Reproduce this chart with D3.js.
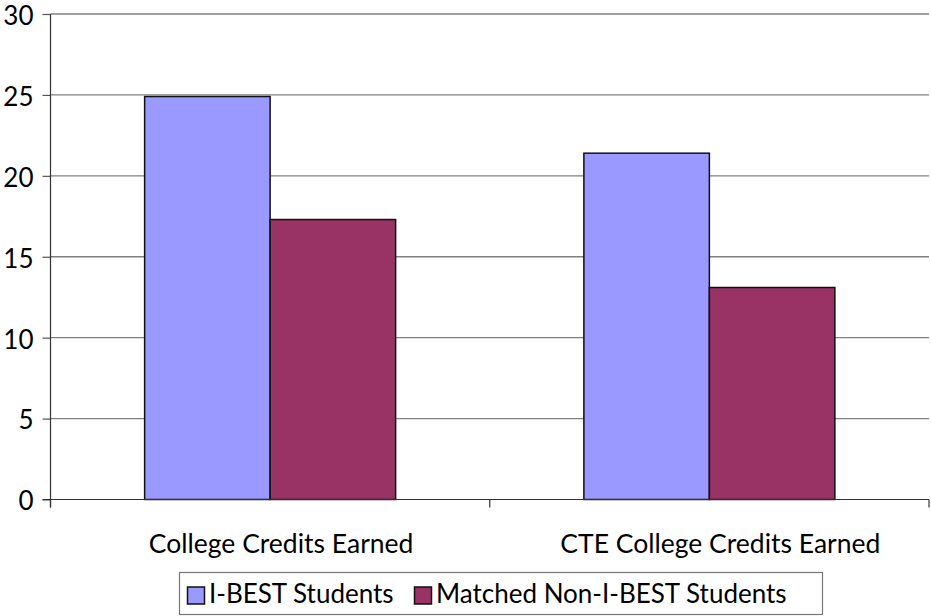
<!DOCTYPE html>
<html>
<head>
<meta charset="utf-8">
<script src="https://cdn.jsdelivr.net/npm/d3@7"></script>
<style>
  body { margin: 0; background: #fff; }
  svg text { font-family: Lato, "Open Sans", sans-serif; fill: #000; }
</style>
</head>
<body>
<div id="chart"></div>
<script>
// DATA
const categories = ['College Credits Earned', 'CTE College Credits Earned'];
const seriesNames = ['I-BEST Students', 'Matched Non-I-BEST Students'];
const ibestValues = [24.9, 21.4];
const matchedValues = [17.3, 13.1];
const yTicks = [0, 5, 10, 15, 20, 25, 30];
const colors = ['#9999ff', '#993366'];

const width = 931, height = 616;
const plot = { left: 50.5, right: 929, top: 14, bottom: 499.5 };

const svg = d3.select('#chart')
  .append('svg')
  .attr('width', width)
  .attr('height', height);

const y = d3.scaleLinear()
  .domain([0, 30])
  .range([plot.bottom, plot.top]);

const x0 = d3.scaleBand()
  .domain(categories)
  .range([plot.left, plot.right]);

// excel style gap width 150%
const bw = x0.bandwidth();
const x1 = d3.scaleBand()
  .domain(seriesNames)
  .range([bw * 0.75 / 3.5, bw * 2.75 / 3.5]);

// GRIDLINES
svg.append('g')
  .selectAll('line')
  .data(yTicks.filter(d => d > 0))
  .enter()
  .append('line')
    .attr('x1', plot.left)
    .attr('x2', plot.right)
    .attr('y1', d => y(d))
    .attr('y2', d => y(d))
    .attr('stroke', '#808080')
    .attr('stroke-width', 1.3);

// Y AXIS
const yAxis = d3.axisLeft(y)
  .tickValues(yTicks)
  .tickSize(8)
  .tickPadding(9);

const gy = svg.append('g')
  .attr('transform', `translate(${plot.left}, 0)`)
  .call(yAxis);
gy.select('.domain').remove();
gy.selectAll('.tick line').attr('stroke', '#555').attr('stroke-width', 1.2);
gy.selectAll('.tick text')
  .style('font-size', '26px')
  .attr('dy', '0.4em');

svg.append('line')
  .attr('x1', plot.left).attr('x2', plot.left)
  .attr('y1', plot.top).attr('y2', plot.bottom + 8)
  .attr('stroke', '#333').attr('stroke-width', 1.2);

// BARS
const series = [ibestValues, matchedValues];
const groups = svg.append('g')
  .selectAll('g')
  .data(categories)
  .enter()
  .append('g')
    .attr('transform', d => `translate(${x0(d)}, 0)`);

groups.selectAll('rect')
  .data((d, i) => seriesNames.map((s, j) => ({ name: s, value: series[j][i], idx: j })))
  .enter()
  .append('rect')
    .attr('x', d => x1(d.name))
    .attr('width', x1.bandwidth())
    .attr('y', d => y(d.value))
    .attr('height', d => y(0) - y(d.value))
    .attr('fill', d => colors[d.idx])
    .attr('stroke', '#111')
    .attr('stroke-width', 1.5);

// X AXIS
const xAxisLine = svg.append('g');
xAxisLine.append('line')
  .attr('x1', plot.left - 8).attr('x2', plot.right)
  .attr('y1', plot.bottom).attr('y2', plot.bottom)
  .attr('stroke', '#333').attr('stroke-width', 1.2);
xAxisLine.selectAll('.xtick')
  .data(categories.map(c => x0(c)).concat([plot.right]))
  .enter()
  .append('line')
    .attr('class', 'xtick')
    .attr('x1', d => d).attr('x2', d => d)
    .attr('y1', plot.bottom).attr('y2', plot.bottom + 8)
    .attr('stroke', '#333').attr('stroke-width', 1.2);

// labels sit a little right of the band centre, like the original
svg.append('g')
  .selectAll('text')
  .data(categories)
  .enter()
  .append('text')
    .attr('x', d => x0(d) + bw / 2 + 11)
    .attr('y', 553)
    .attr('text-anchor', 'middle')
    .style('font-size', '26.5px')
    .text(d => d);

// LEGEND
const legend = svg.append('g');
legend.append('rect')
  .attr('x', 179.5).attr('y', 572.5)
  .attr('width', 643).attr('height', 42)
  .attr('fill', '#fff')
  .attr('stroke', '#777')
  .attr('stroke-width', 1.2);

const legendX = [187, 414];
const items = legend.selectAll('.item')
  .data(seriesNames)
  .enter()
  .append('g')
    .attr('class', 'item')
    .attr('transform', (d, i) => `translate(${legendX[i]}, 0)`);

items.append('rect')
  .attr('x', 0.5).attr('y', 587)
  .attr('width', 17).attr('height', 17)
  .attr('fill', (d, i) => colors[i])
  .attr('stroke', '#111')
  .attr('stroke-width', 1.5);

items.append('text')
  .attr('x', 22)
  .attr('y', 603)
  .style('font-size', '26px')
  .text(d => d);
</script>
</body>
</html>
